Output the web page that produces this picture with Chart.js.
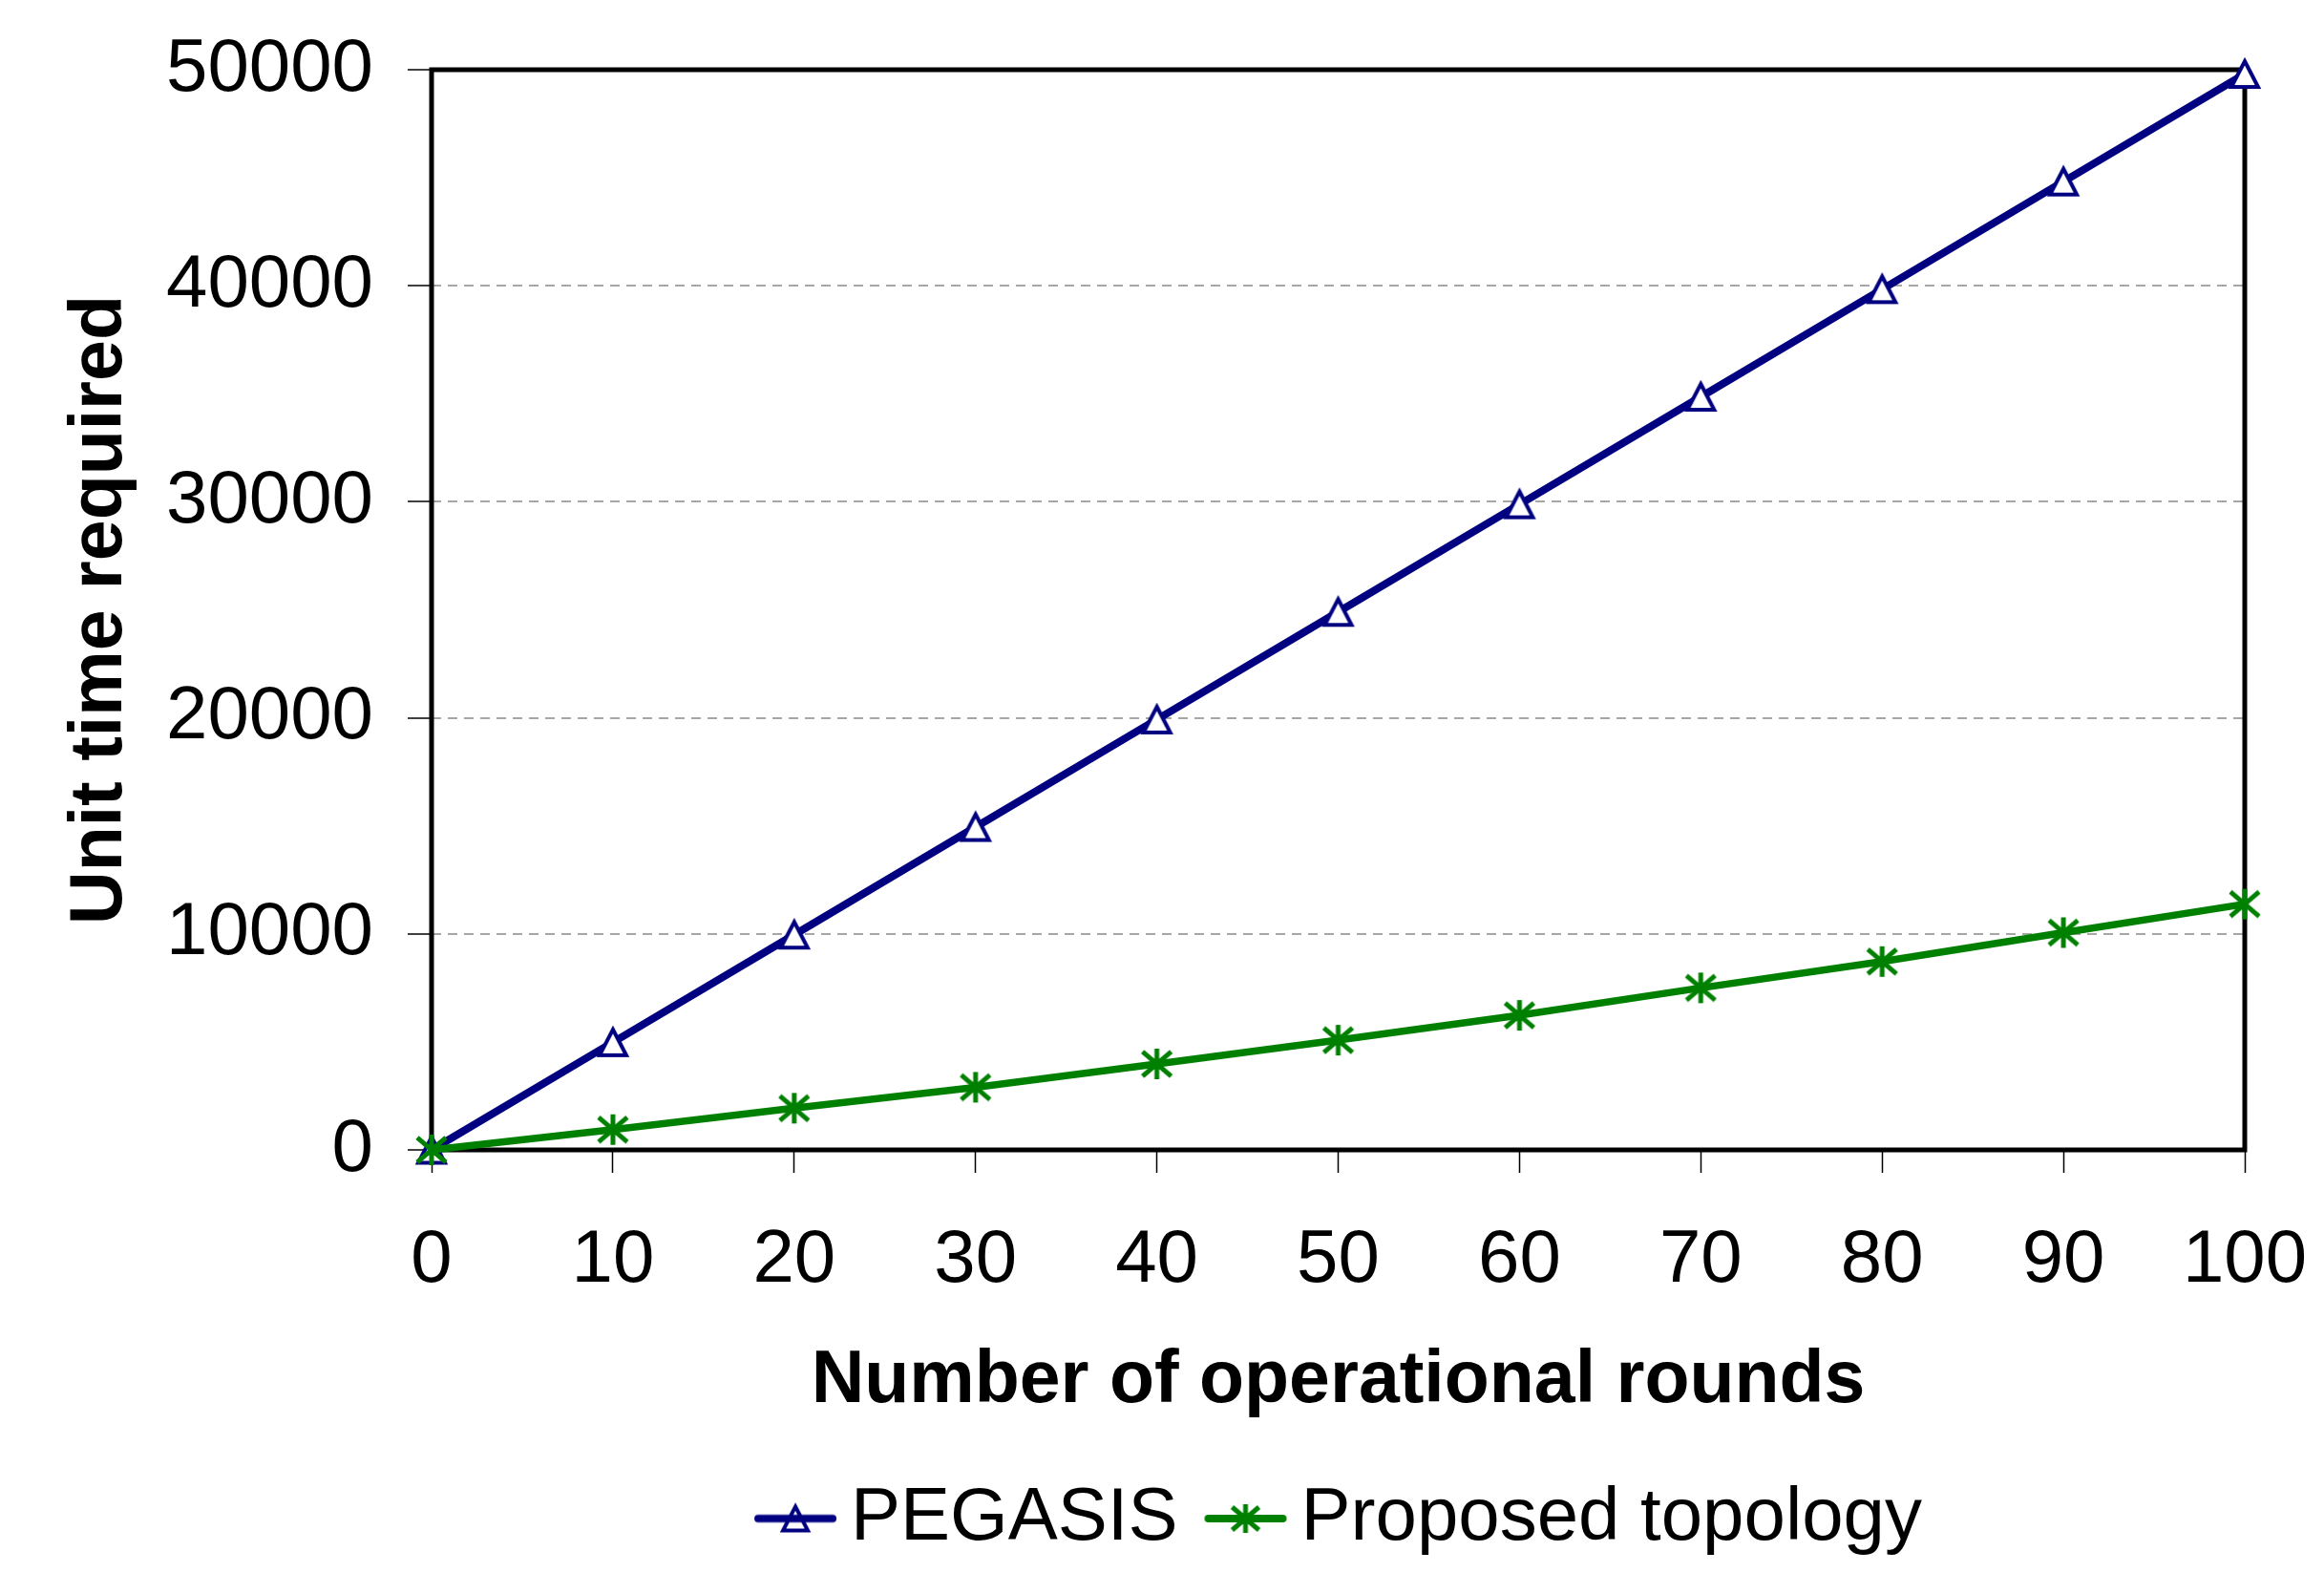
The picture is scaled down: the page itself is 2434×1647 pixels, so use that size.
<!DOCTYPE html>
<html lang="en">
<head>
<meta charset="UTF-8">
<title>Unit time required vs operational rounds</title>
<script src="https://cdn.jsdelivr.net/npm/chart.js"></script>
<style>
  html, body { margin: 0; padding: 0; background: #fff; }
  #wrap { width: 2434px; height: 1647px; position: relative; }
</style>
</head>
<body>
<div id="wrap"><canvas id="roundsChart"></canvas></div>

<script>
    // values
    const rounds = [0, 10, 20, 30, 40, 50, 60, 70, 80, 90, 100];
    const pegasis = [0, 4980, 9960, 14940, 19920, 24900, 29880, 34860, 39840, 44820, 49800];
    const proposed = [0, 940, 1930, 2900, 3980, 5080, 6230, 7500, 8720, 10060, 11380];
    const seriesNames = ['PEGASIS', 'Proposed topology'];
    const xTitle = 'Number of operational rounds';
    const yTitle = 'Unit time required';
    const xMin = 0, xMax = 100, xStep = 10;
    const yMin = 0, yMax = 50000, yStep = 10000;

    const NAVY = '#000080';
    const GREEN = '#008000';
    const LEGEND_SHIFT = 238;

    Chart.defaults.font.family = '"Liberation Sans", Arial, sans-serif';
    Chart.defaults.color = '#000';

    function triangleMark(w, h, lw, withLine) {
        const pad = lw + 1;
        const c = document.createElement('canvas');
        c.width = withLine ? withLine : w + pad * 2;
        c.height = h + pad * 2;
        const g = c.getContext('2d');
        const cx = c.width / 2, top = pad;
        g.lineWidth = lw;
        g.strokeStyle = NAVY;
        g.fillStyle = '#fff';
        g.beginPath();
        g.moveTo(cx, top);
        g.lineTo(cx + w / 2, top + h);
        g.lineTo(cx - w / 2, top + h);
        g.closePath();
        g.fill();
        g.stroke();
        if (withLine) {
            g.lineWidth = 8;
            g.lineCap = 'round';
            g.beginPath();
            g.moveTo(5, c.height / 2);
            g.lineTo(c.width - 5, c.height / 2);
            g.stroke();
        }
        return c;
    }

    function starMark(w, h, lw, withLine) {
        const pad = lw;
        const c = document.createElement('canvas');
        c.width = withLine ? withLine : w + pad * 2;
        c.height = h + pad * 2;
        const g = c.getContext('2d');
        const cx = c.width / 2, cy = c.height / 2;
        g.strokeStyle = GREEN;
        if (withLine) {
            g.lineWidth = 8;
            g.lineCap = 'round';
            g.beginPath();
            g.moveTo(5, cy);
            g.lineTo(c.width - 5, cy);
            g.stroke();
        }
        g.lineWidth = lw;
        g.lineCap = 'butt';
        g.beginPath();
        g.moveTo(cx, cy - h / 2);
        g.lineTo(cx, cy + h / 2);
        g.moveTo(cx - w / 2, cy - h * 0.4);
        g.lineTo(cx + w / 2, cy + h * 0.4);
        g.moveTo(cx - w / 2, cy + h * 0.4);
        g.lineTo(cx + w / 2, cy - h * 0.4);
        g.stroke();
        return c;
    }

    const pointMarks = [triangleMark(28, 27, 4), starMark(30, 32, 5)];
    const legendMarks = [triangleMark(26, 25, 4, 88), starMark(28, 30, 5, 88)];

    const framePlugin = {
        id: 'frame',
        beforeDatasetsDraw(chart) {
            const { ctx, chartArea: a } = chart;
            ctx.save();
            ctx.lineWidth = 5;
            ctx.strokeStyle = '#000';
            ctx.strokeRect(a.left, a.top, a.right - a.left, a.bottom - a.top);
            ctx.restore();
        }
    };

    const legendShiftPlugin = {
        id: 'legendShift',
        afterLayout(chart) {
            chart.legend.left += LEGEND_SHIFT;
            chart.legend.right += LEGEND_SHIFT;
        }
    };

    const ctx = document.getElementById('roundsChart').getContext('2d');

    new Chart(ctx, {
        type: 'line',
        data: {
            datasets: [{
                label: seriesNames[0],
                data: rounds.map((r, i) => ({ x: r, y: pegasis[i] })),
                borderColor: NAVY,
                borderWidth: 8,
                pointStyle: pointMarks[0],
                pointRadius: 13,
                tension: 0,
                clip: false,
                order: 1
            }, {
                label: seriesNames[1],
                data: rounds.map((r, i) => ({ x: r, y: proposed[i] })),
                borderColor: GREEN,
                borderWidth: 7.5,
                pointStyle: pointMarks[1],
                pointRadius: 13,
                tension: 0,
                clip: false,
                order: 0
            }]
        },
        options: {
            responsive: true,
            maintainAspectRatio: false,
            devicePixelRatio: 1,
            animation: false,
            events: [],
            layout: { padding: { left: 0, right: 83, top: 73, bottom: 8 } },
            plugins: {
                tooltip: { enabled: false },
                legend: {
                    position: 'bottom',
                    labels: {
                        color: '#000',
                        font: { size: 78 },
                        padding: 52,
                        usePointStyle: true,
                        pointStyleWidth: 38,
                        generateLabels: chart => chart.data.datasets.map((ds, i) => ({
                            text: ds.label,
                            pointStyle: legendMarks[i],
                            fillStyle: ds.borderColor,
                            strokeStyle: ds.borderColor,
                            fontColor: '#000',
                            lineWidth: 0,
                            hidden: false,
                            datasetIndex: i
                        }))
                    }
                }
            },
            scales: {
                x: {
                    type: 'linear',
                    min: xMin,
                    max: xMax,
                    ticks: {
                        stepSize: xStep,
                        color: '#000',
                        font: { size: 78 },
                        padding: 46,
                        maxRotation: 0,
                        autoSkip: false
                    },
                    grid: {
                        drawOnChartArea: false,
                        tickLength: 24,
                        tickColor: '#000',
                        tickWidth: 1.5
                    },
                    border: { display: false },
                    title: {
                        display: true,
                        text: xTitle,
                        color: '#000',
                        font: { size: 77, weight: 'bold' },
                        padding: { top: 0, bottom: 6 }
                    },
                    afterFit: scale => {
                        scale.height = 295;
                        scale.paddingLeft = 0;
                        scale.paddingRight = 0;
                    }
                },
                y: {
                    min: yMin,
                    max: yMax,
                    ticks: {
                        stepSize: yStep,
                        color: '#000',
                        font: { size: 78 },
                        padding: 36,
                        callback: v => String(v)
                    },
                    grid: {
                        color: '#a6a6a6',
                        lineWidth: 2,
                        tickLength: 25,
                        tickColor: '#000',
                        tickWidth: 1.5
                    },
                    border: { display: false, dash: [10, 7] },
                    title: {
                        display: true,
                        text: yTitle,
                        color: '#000',
                        font: { size: 77, weight: 'bold' },
                        padding: { top: 60, bottom: 0 }
                    },
                    afterFit: scale => {
                        scale.width = 452;
                        scale.paddingTop = 0;
                        scale.paddingBottom = 0;
                    }
                }
            }
        },
        plugins: [framePlugin, legendShiftPlugin]
    });
</script>
</body>
</html>
